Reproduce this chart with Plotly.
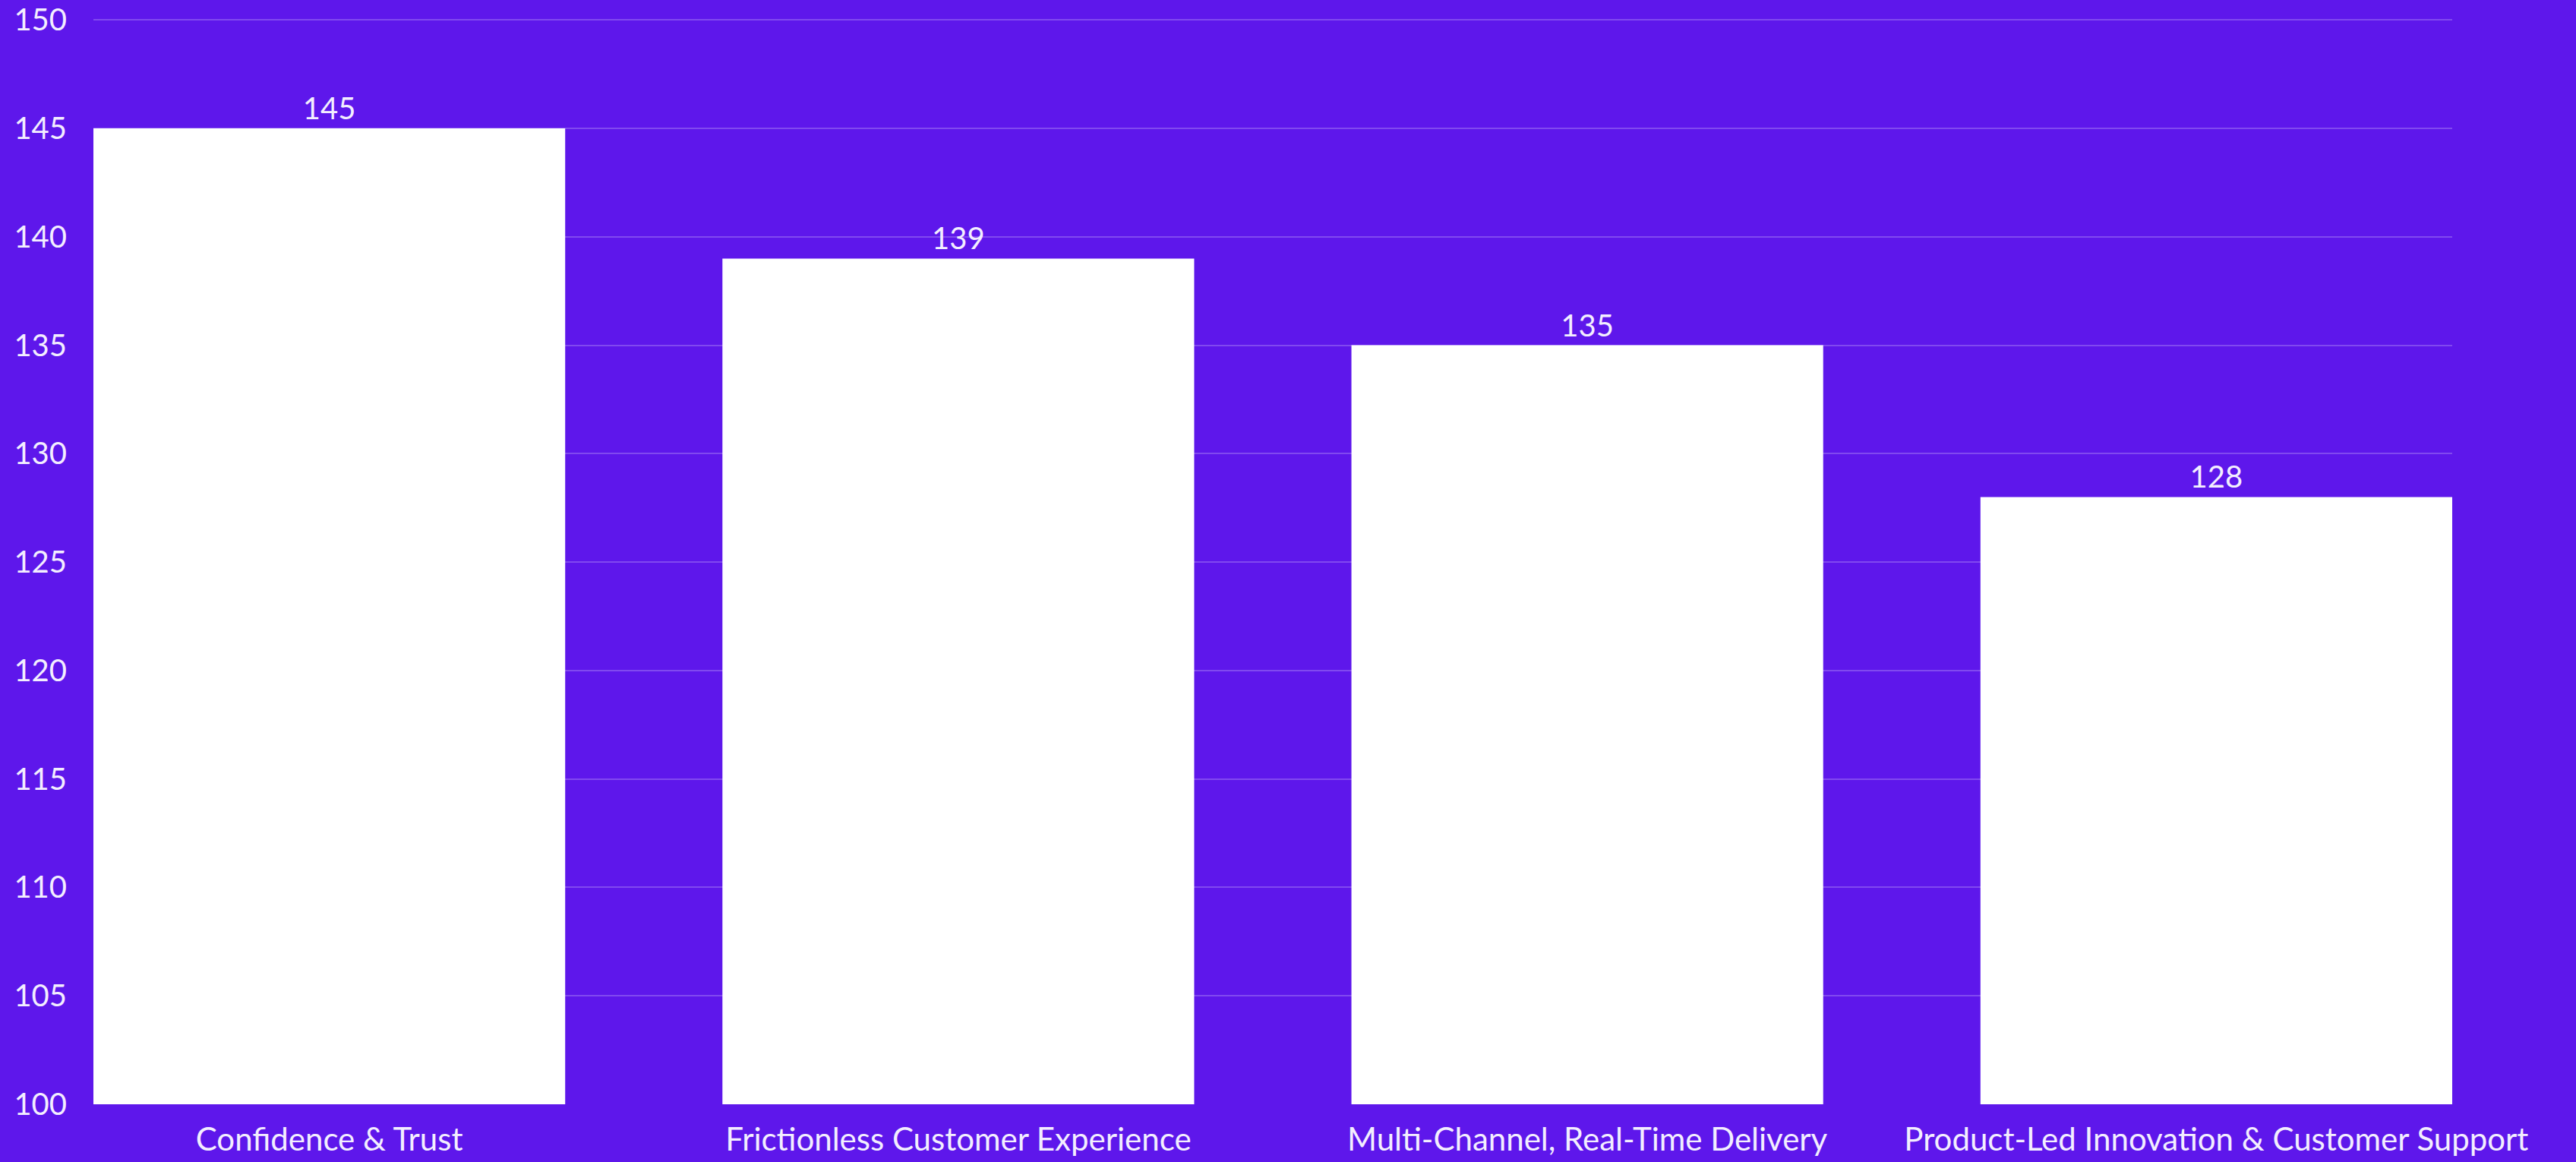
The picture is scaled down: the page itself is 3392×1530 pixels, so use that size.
import plotly.graph_objects as go

categories = ["Confidence & Trust", "Frictionless Customer Experience",
              "Multi-Channel, Real-Time Delivery", "Product-Led Innovation & Customer Support"]
values = [145, 139, 135, 128]
y_ticks = [100, 105, 110, 115, 120, 125, 130, 135, 140, 145, 150]

BG = "#5E17EB"
TXT = "#F3EEFF"
FONT = "Lato"

fig = go.Figure(go.Bar(
    x=categories, y=values,
    marker=dict(color="#FFFFFF", line=dict(width=0)),
    text=[str(v) for v in values], textposition="outside",
    textfont=dict(family=FONT, size=40, color=TXT),
    cliponaxis=False,
))

fig.update_layout(
    width=3392, height=1530,
    paper_bgcolor=BG, plot_bgcolor=BG,
    margin=dict(l=123, r=163, t=22, b=76, pad=0),
    bargap=0.25,
    showlegend=False,
    font=dict(family=FONT, size=40, color=TXT),
)
fig.update_xaxes(
    range=[-0.375, 3.375], showgrid=False, zeroline=False, showline=False, automargin=False,
    ticks="", ticklabelstandoff=18, tickfont=dict(family=FONT, size=42, color=TXT),
)
fig.update_yaxes(
    range=[100, 150.15], tickvals=y_ticks, showgrid=True, automargin=False,
    gridcolor="rgba(255,255,255,0.22)", gridwidth=2, zeroline=False, showline=False,
    ticks="", ticklabelstandoff=34, tickfont=dict(family=FONT, size=40, color=TXT),
)

fig.write_html("out.html", config={"displayModeBar": False},
               post_script="document.body.style.margin='0';document.body.style.overflow='hidden';")
